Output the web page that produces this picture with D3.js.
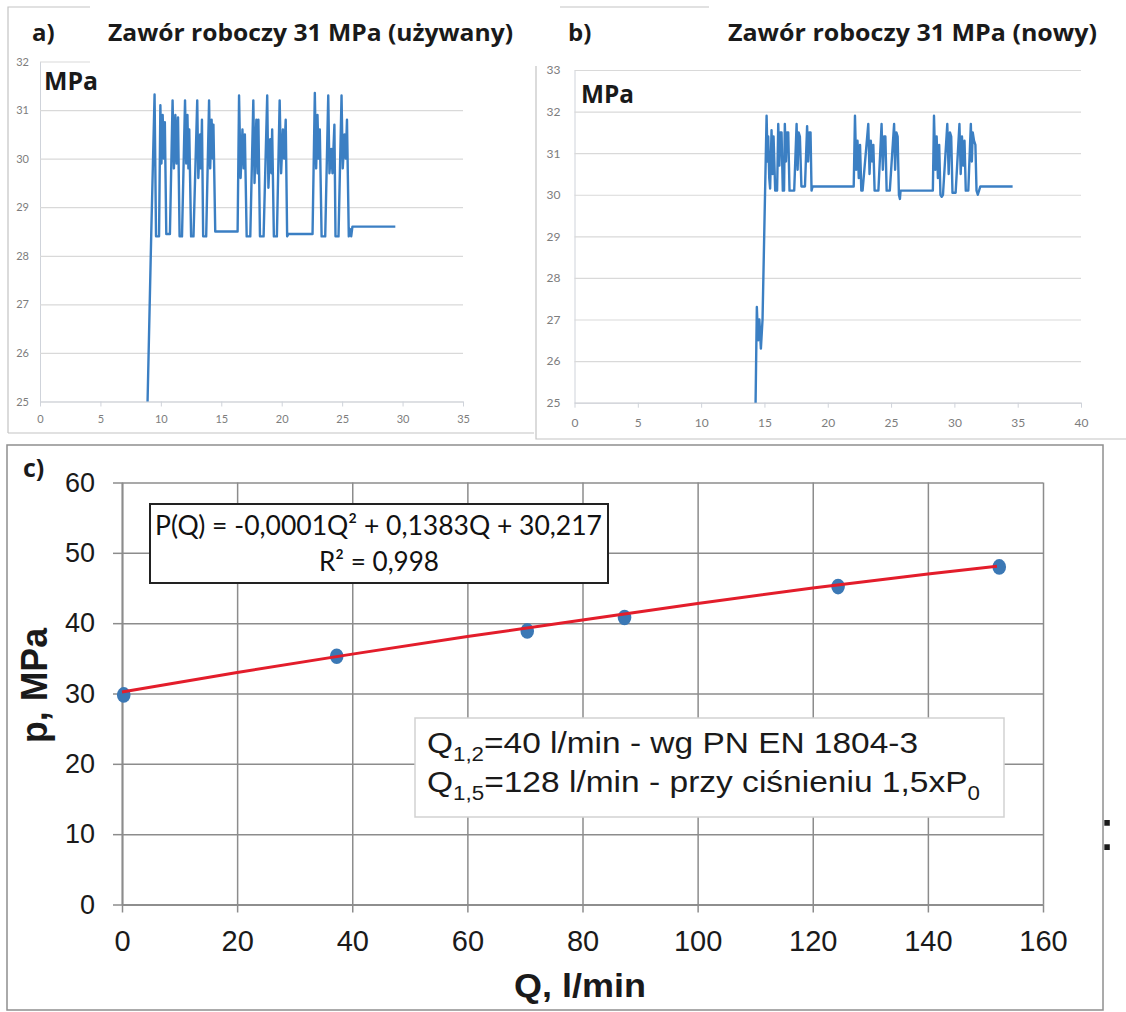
<!DOCTYPE html>
<html>
<head>
<meta charset="utf-8">
<script src="https://cdn.jsdelivr.net/npm/d3@7"></script>
<style>
  body { margin: 0; background: #fff; }
</style>
</head>
<body>
<svg id="fig" width="1126" height="1012"></svg>
<script>
// ---- data ----
// a) used valve: time [s], pressure [MPa]
var usedTime = [8.9, 9.2, 9.48, 9.6, 9.85, 9.96, 10.05, 10.15, 10.25, 10.33, 10.45, 10.75, 10.97, 11.08, 11.2, 11.3, 11.42, 11.55, 11.75,
  12.0, 12.1, 12.2, 12.28, 12.35, 12.5, 12.7, 13.01, 13.1, 13.25, 13.32, 13.4, 13.5, 13.75, 13.99, 14.08, 14.2, 14.3, 14.35, 14.5,
  16.35, 16.47, 16.6, 16.75, 16.85, 16.95, 17.1, 17.4, 17.65, 17.75, 17.9, 18.0, 18.07, 18.2, 18.5, 18.8, 18.9, 19.05, 19.15, 19.21,
  19.35, 19.6, 19.83, 19.95, 20.1, 20.2, 20.33, 20.45, 20.55, 22.55, 22.74, 22.85, 22.96, 23.05, 23.15, 23.3, 23.6, 23.85, 23.95,
  24.1, 24.2, 24.36, 24.45, 24.7, 24.95, 25.05, 25.2, 25.3, 25.4, 25.55, 25.65, 25.75, 25.85, 29.4];
var usedPressure = [25.0, 28.4, 31.32, 28.4, 28.4, 31.1, 29.9, 30.9, 30.0, 30.75, 28.45, 28.45, 31.2, 29.8, 30.9, 29.9, 30.85, 28.4, 28.4,
  31.2, 29.9, 30.9, 29.8, 30.6, 28.4, 28.4, 31.2, 29.6, 30.5, 29.8, 30.8, 28.4, 28.4, 31.2, 29.8, 30.8, 30.0, 30.7, 28.5,
  28.5, 31.3, 29.6, 30.6, 29.8, 30.5, 28.4, 28.4, 31.2, 29.5, 30.8, 29.7, 30.8, 28.4, 28.4, 31.3, 29.4, 30.4, 29.7, 30.6,
  28.4, 28.4, 31.2, 29.7, 30.6, 30.0, 30.8, 28.4, 28.45, 28.45, 31.35, 29.8, 30.9, 30.0, 30.6, 28.4, 28.4, 31.3, 29.7,
  30.2, 29.7, 30.7, 28.4, 28.4, 31.3, 29.8, 30.5, 30.0, 30.8, 28.4, 28.55, 28.4, 28.6, 28.6];

// b) new valve
var newTime = [14.3, 14.4, 14.5, 14.6, 14.72, 14.85, 15.17, 15.25, 15.3, 15.38, 15.45, 15.56, 15.65, 15.72, 15.85, 16.0, 16.09, 16.18,
  16.25, 16.35, 16.45, 16.55, 16.61, 16.7, 16.78, 16.88, 16.98, 17.35, 17.54, 17.62, 17.7, 17.8, 17.92, 18.2, 18.37, 18.45, 18.55,
  18.64, 18.72, 18.8, 22.05, 22.15, 22.25, 22.35, 22.45, 22.55, 22.65, 22.75, 23.2, 23.3, 23.4, 23.5, 23.6, 23.7, 24.0, 24.25, 24.35,
  24.45, 24.55, 24.65, 24.9, 25.24, 25.32, 25.42, 25.52, 25.62, 25.7, 25.75, 28.3, 28.39, 28.5, 28.6, 28.7, 28.8, 28.9, 29.0, 29.1,
  29.44, 29.55, 29.65, 29.75, 29.85, 30.1, 30.4, 30.5, 30.6, 30.7, 30.8, 30.9, 31.1, 31.3, 31.38, 31.45, 31.55, 31.66, 31.75, 31.85,
  32.05, 34.6];
var newPressure = [25.0, 27.3, 26.5, 27.0, 26.3, 27.0, 31.9, 30.8, 31.4, 30.4, 30.15, 31.55, 30.5, 31.4, 30.1, 30.1, 31.7, 30.7,
  31.5, 31.5, 30.1, 30.1, 31.7, 30.8, 31.5, 31.5, 30.1, 30.1, 31.7, 30.6, 31.5, 31.4, 30.2, 30.2, 31.65, 30.8, 31.5,
  31.5, 30.1, 30.2, 30.2, 31.9, 30.6, 31.3, 30.4, 31.2, 30.1, 30.1, 31.7, 30.5, 31.3, 30.8, 31.2, 30.1, 30.1, 31.7, 30.6,
  31.4, 31.4, 30.1, 30.1, 31.7, 30.6, 31.5, 31.4, 30.0, 29.9, 30.1, 30.1, 31.9, 30.6, 31.4, 30.4, 31.2, 30.0, 29.95, 30.0,
  31.7, 30.5, 31.5, 31.4, 30.05, 30.05, 31.7, 30.5, 31.4, 30.7, 31.3, 30.1, 30.1, 31.7, 30.8, 31.5, 31.3, 31.2, 30.1, 30.0,
  30.2, 30.2];

// c) flow vs pressure
var flowQ = [0.3, 37.3, 70.4, 87.3, 124.4, 152.4];
var flowP = [29.8, 35.3, 38.9, 40.8, 45.2, 48.0];
var trendQ = [0, 20, 40, 60, 80, 100, 120, 140, 152];
var trendP = [30.2, 33.0, 35.6, 38.1, 40.45, 42.8, 45.0, 47.0, 48.1];

var usedXTicks = [0, 5, 10, 15, 20, 25, 30, 35];
var usedYTicks = [25, 26, 27, 28, 29, 30, 31, 32];
var newXTicks = [0, 5, 10, 15, 20, 25, 30, 35, 40];
var newYTicks = [25, 26, 27, 28, 29, 30, 31, 32, 33];
var flowXTicks = [0, 20, 40, 60, 80, 100, 120, 140, 160];
var flowYTicks = [0, 10, 20, 30, 40, 50, 60];

var svg = d3.select("#fig");
var blue = "#3b7fc3";
var intFmt = d3.format("d");

// scales
var xA = d3.scaleLinear().domain([0, 35]).range([40, 463]);
var yA = d3.scaleLinear().domain([25, 32]).range([401.5, 61.5]);
var xB = d3.scaleLinear().domain([0, 40]).range([574.5, 1081]);
var yB = d3.scaleLinear().domain([25, 33]).range([402.7, 70]);
var xC = d3.scaleLinear().domain([0, 160]).range([122, 1043]);
var yC = d3.scaleLinear().domain([0, 60]).range([904.5, 482.5]);

// panel frames (scanned figure borders)
var frame = svg.append("g").attr("stroke", "#c4c4c4").attr("stroke-width", 1.2).attr("fill", "none");
frame.append("path").attr("d", "M8,433V7H90");
frame.append("path").attr("d", "M8,433H534");
frame.append("path").attr("d", "M536,66V439H1126");
frame.append("path").attr("d", "M560,7H709");

// small time charts a) and b)
function timeChart(xs, ys, xTicks, yTicks, fs, padY, padX) {
  var w = xs.range()[1] - xs.range()[0];
  var gy = svg.append("g")
    .attr("transform", "translate(" + xs.range()[0] + ",0)")
    .call(d3.axisLeft(ys).tickValues(yTicks).tickFormat(intFmt).tickSize(-w).tickSizeOuter(0).tickPadding(padY));
  gy.select(".domain").attr("stroke", "#cfd3da");
  gy.selectAll(".tick line").attr("stroke", "#d9d9d9").attr("stroke-width", 1.2);
  gy.selectAll(".tick text").attr("fill", "#7d7d7d").attr("font-family", "Lato").attr("font-size", fs);

  var gx = svg.append("g")
    .attr("transform", "translate(0," + ys.range()[0] + ")")
    .call(d3.axisBottom(xs).tickValues(xTicks).tickFormat(intFmt).tickSize(5).tickSizeOuter(0).tickPadding(padX));
  gx.select(".domain").attr("stroke", "#cfd3da");
  gx.selectAll(".tick line").attr("stroke", "#cfd3da");
  gx.selectAll(".tick text").attr("fill", "#7d7d7d").attr("font-family", "Lato").attr("font-size", fs);
}

timeChart(xA, yA, usedXTicks, usedYTicks, 11, 11, 9);
timeChart(xB, yB, newXTicks, newYTicks, 12, 14, 11);

// the pasted title hides the upper grid line of a)
svg.append("rect").attr("x", 90).attr("y", 0).attr("width", 444).attr("height", 64).attr("fill", "#fff");

var trace = d3.line().x(function(d) { return d.x; }).y(function(d) { return d.y; });
svg.append("path")
  .datum(usedTime.map(function(t, i) { return {x: xA(t), y: yA(usedPressure[i])}; }))
  .attr("d", trace).attr("fill", "none").attr("stroke", blue).attr("stroke-width", 2.4).attr("stroke-linejoin", "round");
svg.append("path")
  .datum(newTime.map(function(t, i) { return {x: xB(t), y: yB(newPressure[i])}; }))
  .attr("d", trace).attr("fill", "none").attr("stroke", blue).attr("stroke-width", 2.4).attr("stroke-linejoin", "round");

// titles
var titles = svg.append("g").attr("font-family", "Open Sans").attr("font-weight", "bold").attr("fill", "#1a1a1a");
titles.append("text").attr("x", 32).attr("y", 41).attr("font-size", 24).text("a)");
titles.append("text").attr("x", 108).attr("y", 41).attr("font-size", 23)
  .attr("textLength", 405).attr("lengthAdjust", "spacingAndGlyphs").text("Zawór roboczy 31 MPa (używany)");
titles.append("text").attr("x", 568).attr("y", 41).attr("font-size", 24).text("b)");
titles.append("text").attr("x", 728).attr("y", 41).attr("font-size", 23)
  .attr("textLength", 369).attr("lengthAdjust", "spacingAndGlyphs").text("Zawór roboczy 31 MPa (nowy)");
titles.append("text").attr("x", 44).attr("y", 90).attr("font-size", 25)
  .attr("textLength", 54).attr("lengthAdjust", "spacingAndGlyphs").text("MPa");
titles.append("text").attr("x", 581).attr("y", 103).attr("font-size", 25)
  .attr("textLength", 53).attr("lengthAdjust", "spacingAndGlyphs").text("MPa");

// ---- panel c ----
svg.append("rect").attr("x", 7).attr("y", 445).attr("width", 1096).attr("height", 565)
  .attr("fill", "none").attr("stroke", "#8f8f8f").attr("stroke-width", 1.5);

var gridC = svg.append("g");
gridC.append("g").attr("transform", "translate(0,904.5)")
  .call(d3.axisBottom(xC).tickValues(flowXTicks).tickSize(-(904.5 - 482.5)).tickSizeOuter(0).tickFormat(""));
gridC.append("g").attr("transform", "translate(122,0)")
  .call(d3.axisLeft(yC).tickValues(flowYTicks).tickSize(-(1043 - 122)).tickSizeOuter(0).tickFormat(""));
gridC.selectAll("line, path").attr("stroke", "#8c8c8c").attr("stroke-width", 1.5);

var axXC = svg.append("g").attr("transform", "translate(0,904.5)")
  .call(d3.axisBottom(xC).tickValues(flowXTicks).tickSize(8).tickSizeOuter(0).tickPadding(17.5));
var axYC = svg.append("g").attr("transform", "translate(122,0)")
  .call(d3.axisLeft(yC).tickValues(flowYTicks).tickSize(9).tickSizeOuter(0).tickPadding(18));
[axXC, axYC].forEach(function(g) {
  g.selectAll("line, path").attr("stroke", "#8c8c8c").attr("stroke-width", 1.5);
  g.selectAll(".tick text").attr("fill", "#1a1a1a").attr("font-family", "Liberation Sans");
});
axXC.selectAll(".tick text").attr("font-size", 29);
axYC.selectAll(".tick text").attr("font-size", 27);

// measured points, then the fitted curve over them
svg.append("g").selectAll("ellipse")
  .data(flowQ)
  .enter()
  .append("ellipse")
  .attr("cx", function(d) { return xC(d); })
  .attr("cy", function(d, i) { return yC(flowP[i]); })
  .attr("rx", 6.8).attr("ry", 7.8)
  .attr("fill", "#3b78b5");

svg.append("path")
  .datum(trendQ.map(function(q, i) { return {x: xC(q), y: yC(trendP[i])}; }))
  .attr("d", trace).attr("fill", "none").attr("stroke", "#e31d2b").attr("stroke-width", 3);

// equation box
svg.append("rect").attr("x", 150).attr("y", 504).attr("width", 458).attr("height", 79)
  .attr("fill", "#fff").attr("stroke", "#222").attr("stroke-width", 2);
var eq = svg.append("g").attr("font-family", "Lato").attr("font-size", 26).attr("fill", "#111");
eq.append("text").attr("x", 155).attr("y", 535)
  .attr("textLength", 447).attr("lengthAdjust", "spacingAndGlyphs")
  .text("P(Q) = -0,0001Q² + 0,1383Q + 30,217");
eq.append("text").attr("x", 379).attr("y", 571).attr("text-anchor", "middle")
  .attr("textLength", 120).attr("lengthAdjust", "spacingAndGlyphs").text("R² = 0,998");

// flow note box
svg.append("rect").attr("x", 415).attr("y", 718).attr("width", 589).attr("height", 99)
  .attr("fill", "#fff").attr("stroke", "#d2d2d2").attr("stroke-width", 1.5);
var note = svg.append("g").attr("font-family", "Liberation Sans").attr("font-size", 30).attr("fill", "#1a1a1a");
var n1 = note.append("text").attr("x", 427).attr("y", 753)
  .attr("textLength", 491).attr("lengthAdjust", "spacingAndGlyphs");
n1.append("tspan").text("Q");
n1.append("tspan").attr("dy", 8).attr("font-size", 20).text("1,2");
n1.append("tspan").attr("dy", -8).text("=40 l/min - wg PN EN 1804-3");
var n2 = note.append("text").attr("x", 427).attr("y", 792)
  .attr("textLength", 553).attr("lengthAdjust", "spacingAndGlyphs");
n2.append("tspan").text("Q");
n2.append("tspan").attr("dy", 8).attr("font-size", 20).text("1,5");
n2.append("tspan").attr("dy", -8).text("=128 l/min - przy ciśnieniu  1,5xP");
n2.append("tspan").attr("dy", 8).attr("font-size", 20).text("0");

// axis titles and panel label
svg.append("text").attr("x", 580).attr("y", 997).attr("text-anchor", "middle")
  .attr("font-family", "Liberation Sans").attr("font-weight", "bold").attr("font-size", 34)
  .attr("textLength", 132).attr("lengthAdjust", "spacingAndGlyphs").attr("fill", "#1a1a1a")
  .text("Q, l/min");
svg.append("text").attr("transform", "translate(47,685.5) rotate(-90)").attr("text-anchor", "middle")
  .attr("font-family", "Liberation Sans").attr("font-weight", "bold").attr("font-size", 36)
  .attr("textLength", 115).attr("lengthAdjust", "spacingAndGlyphs").attr("fill", "#1a1a1a")
  .text("p, MPa");
svg.append("text").attr("x", 23).attr("y", 477).attr("font-family", "Open Sans").attr("font-weight", "bold")
  .attr("font-size", 25).attr("fill", "#1a1a1a").text("c)");

// stray colon at the right edge of the scan
svg.append("text").attr("x", 1099).attr("y", 850).attr("font-family", "Liberation Sans")
  .attr("font-size", 58).attr("fill", "#1a1a1a").text(":");
</script>
</body>
</html>
